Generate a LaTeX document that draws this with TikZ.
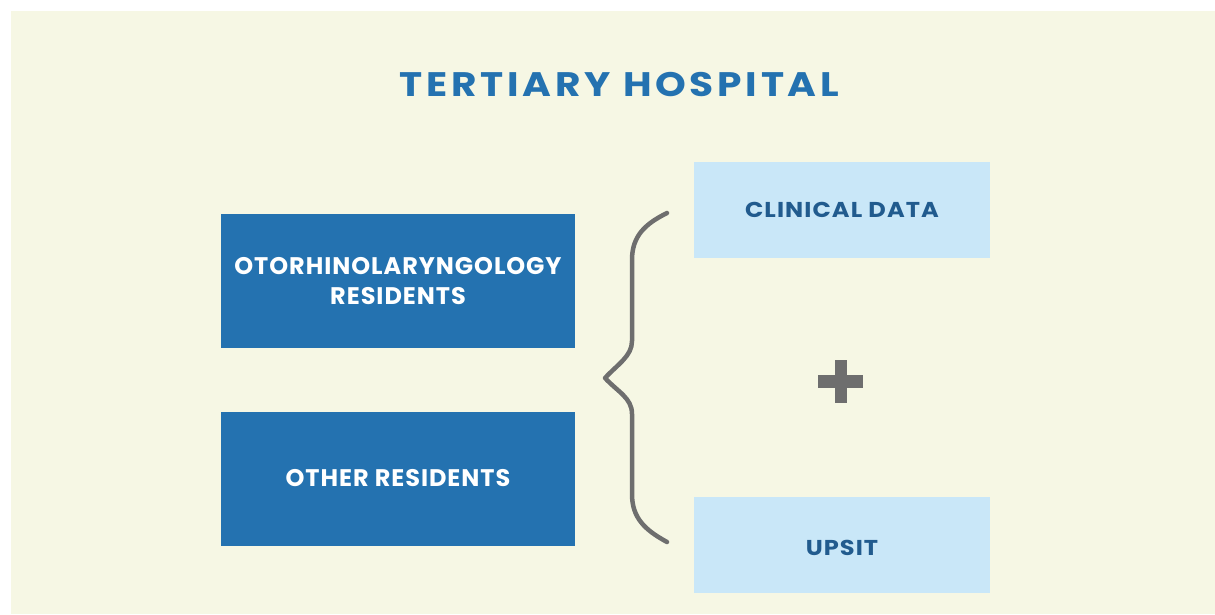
\documentclass[tikz,border=0pt]{standalone}
\usepackage{fontspec}
\setmainfont{Poppins}
\usepackage{tikz}
\usetikzlibrary{positioning}
\definecolor{cream}{HTML}{F6F7E4}
\definecolor{darkblue}{HTML}{2472B0}
\definecolor{paleblue}{HTML}{C9E7F8}
\definecolor{inkblue}{HTML}{215B8E}
\definecolor{bracegray}{HTML}{6E6E6E}

\begin{document}
\begin{tikzpicture}[x=1pt, y=-1pt,
  groupbox/.style={fill=darkblue, text=white, minimum width=354pt, minimum height=134pt,
    align=center, inner sep=0pt,
    font=\fontsize{24}{30}\selectfont\bfseries\addfontfeature{LetterSpace=4}},
  sourcebox/.style={fill=paleblue, text=inkblue, minimum width=296pt, minimum height=96pt,
    align=center, inner sep=0pt,
    font=\fontsize{21.5}{26}\selectfont\bfseries\addfontfeature{FakeStretch=1.12,LetterSpace=5}}]
  % Canvas with white margin
  \useasboundingbox (0,0) rectangle (1215,614);
  \fill[white] (0,0) rectangle (1215,614);
  \fill[cream] (11,11) rectangle (1215,614);
  % Title
  \node[text=darkblue, font=\fontsize{34}{40}\selectfont\bfseries\addfontfeature{FakeStretch=1.15,LetterSpace=11}]
    (title) at (619.5,84.5) {TERTIARY HOSPITAL};
  % Resident groups
  \node[groupbox] (oto) at (398,281) {OTORHINOLARYNGOLOGY\\RESIDENTS};
  \node[groupbox] (other) at (398,478.5) {OTHER RESIDENTS};
  % Data sources
  \node[sourcebox] (clinical) at (842,210) {CLINICAL DATA};
  \node[sourcebox, text height=22pt] (upsit) at (842,545) {UPSIT};
  % Brace
  \draw[bracegray, line width=4.5pt, line cap=round, line join=round]
    (667,213) .. controls (645,224) and (632,236) .. (632,260) -- (632,341)
    .. controls (632,356) and (618,364) .. (605,378)
    .. controls (618,392) and (632,398) .. (632,414) -- (632,494)
    .. controls (632,518) and (645,530) .. (667,542);
  % Plus sign
  \coordinate (plus) at (841,382);
  \fill[bracegray] ([xshift=-6pt,yshift=22pt]plus) rectangle ([xshift=6pt,yshift=-21pt]plus);
  \fill[bracegray] ([xshift=-23pt,yshift=7pt]plus) rectangle ([xshift=22pt,yshift=-6pt]plus);
\end{tikzpicture}
\end{document}
